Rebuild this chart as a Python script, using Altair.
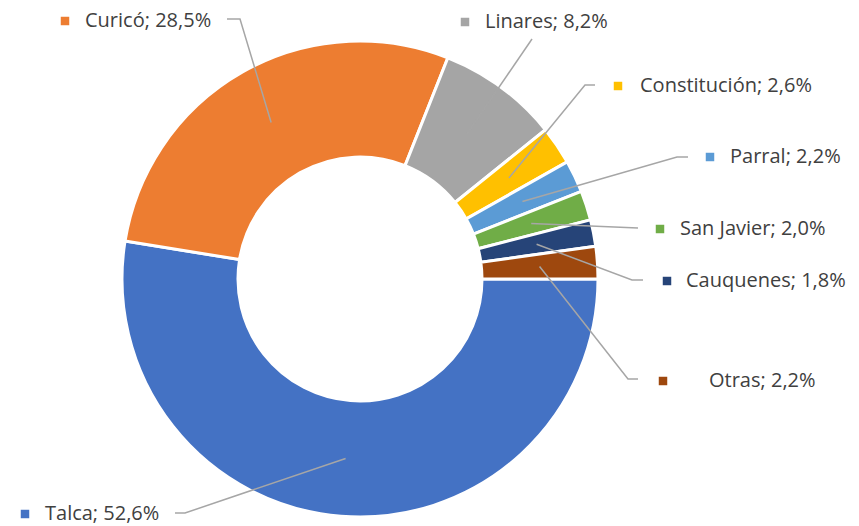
import math
import numpy as np
import pandas as pd
import altair as alt

# ---- data ----
categories = ["Talca", "Curicó", "Linares", "Constitución", "Parral", "San Javier", "Cauquenes", "Otras"]
values = [52.6, 28.5, 8.2, 2.6, 2.2, 2.0, 1.8, 2.2]
labels = ["Talca; 52,6%", "Curicó; 28,5%", "Linares; 8,2%", "Constitución; 2,6%",
          "Parral; 2,2%", "San Javier; 2,0%", "Cauquenes; 1,8%", "Otras; 2,2%"]
colors = ["#4472C4", "#ED7D31", "#A5A5A5", "#FFC000", "#5B9BD5", "#70AD47", "#264478", "#9E480E"]

# ---- layout (page pixel positions, not data) ----
M = 8
CX, CY = 360 - M, 279 - M
R_OUT, R_IN = 238, 122
START = math.pi / 2
square_pos = [(25, 514), (65, 21), (465, 22), (618, 86), (710, 157), (660, 229), (667, 281), (663, 381)]
text_x = [45, 85, 485, 640, 730, 680, 686, 709]
elbows = [
    [(185, 513), (175, 513)],
    [(240, 19), (227, 19)],
    [(532, 39)],
    [(585, 85), (595, 85)],
    [(677, 157), (688, 157)],
    [(638, 228)],
    [(632, 280), (643, 280)],
    [(628, 379), (638, 379)],
]

df = pd.DataFrame({"cat": categories, "value": values, "label": labels,
                   "idx": list(range(len(categories)))})

total = float(np.sum(values))
cum = np.cumsum(values) - np.array(values) / 2.0
mid_angles = START + cum / total * 2 * math.pi
r_mid = (R_OUT + R_IN) / 2.0

rows = []
for i, c in enumerate(categories):
    a = mid_angles[i]
    rows.append({"cat": c, "seq": 0, "px": CX + r_mid * math.sin(a), "py": CY - r_mid * math.cos(a)})
    for j, (ex, ey) in enumerate(elbows[i]):
        rows.append({"cat": c, "seq": j + 1, "px": ex - M, "py": ey - M})
lines_df = pd.DataFrame(rows)

lab_df = pd.DataFrame({
    "cat": categories,
    "label": labels,
    "sx": [p[0] - M for p in square_pos],
    "sy": [p[1] - M for p in square_pos],
    "tx": [t - M for t in text_x],
})

color_scale = alt.Scale(domain=categories, range=colors)

arcs = alt.Chart(df).mark_arc(stroke="white", strokeWidth=3).encode(
    theta=alt.Theta("value:Q", stack=True,
                    scale=alt.Scale(range=[START, START + 2 * math.pi])),
    order=alt.Order("idx:Q"),
    color=alt.Color("cat:N", scale=color_scale, legend=None),
    x=alt.value(CX),
    y=alt.value(CY),
    radius=alt.value(R_OUT),
    radius2=alt.value(R_IN),
)

leaders = alt.Chart(lines_df).mark_line(color="#A6A6A6", strokeWidth=1.5).encode(
    x=alt.X("px:Q", scale=None, axis=None),
    y=alt.Y("py:Q", scale=None, axis=None),
    detail="cat:N",
    order="seq:Q",
)

squares = alt.Chart(lab_df).mark_square(size=72, opacity=1).encode(
    x=alt.X("sx:Q", scale=None, axis=None),
    y=alt.Y("sy:Q", scale=None, axis=None),
    color=alt.Color("cat:N", scale=color_scale, legend=None),
)

texts = alt.Chart(lab_df).mark_text(align="left", baseline="middle", font="Open Sans",
                                    fontSize=20, color="#404040").encode(
    x=alt.X("tx:Q", scale=None, axis=None),
    y=alt.Y("sy:Q", scale=None, axis=None),
    text="label:N",
)

chart = alt.layer(arcs, leaders, squares, texts).properties(
    width=843, height=518, padding=0, autosize=alt.AutoSizeParams(type="none")
).configure_view(stroke=None)

chart.save("out.html", embed_options={"renderer": "svg", "actions": False})
